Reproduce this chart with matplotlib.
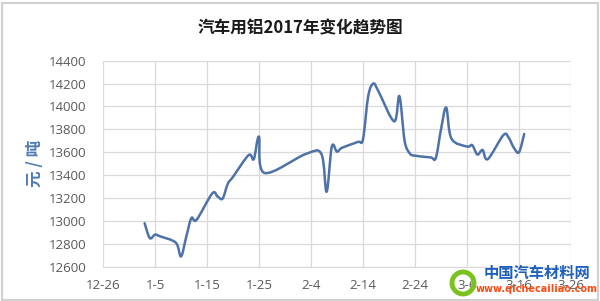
import matplotlib
matplotlib.use("Agg")
import matplotlib.pyplot as plt
import matplotlib.dates as mdates
from matplotlib.path import Path
from matplotlib.patches import PathPatch, Rectangle, Arc, Circle
import datetime as dt
import numpy as np

plt.rcParams['font.family'] = ['Noto Sans CJK SC', 'DejaVu Sans']

title = "汽车用铝2017年变化趋势图"
ylabel = "元 / 吨"

dates = ["2017-01-03", "2017-01-04", "2017-01-05", "2017-01-06", "2017-01-09",
         "2017-01-10", "2017-01-11", "2017-01-12", "2017-01-13", "2017-01-16",
         "2017-01-17", "2017-01-18", "2017-01-19", "2017-01-20", "2017-01-23",
         "2017-01-24", "2017-01-25", "2017-01-26", "2017-02-03", "2017-02-06",
         "2017-02-07", "2017-02-08", "2017-02-09", "2017-02-10", "2017-02-13",
         "2017-02-14", "2017-02-15", "2017-02-16", "2017-02-17", "2017-02-20",
         "2017-02-21", "2017-02-22", "2017-02-23", "2017-02-24", "2017-02-27",
         "2017-02-28", "2017-03-01", "2017-03-02", "2017-03-03", "2017-03-06",
         "2017-03-07", "2017-03-08", "2017-03-09", "2017-03-10", "2017-03-13",
         "2017-03-14", "2017-03-15", "2017-03-16", "2017-03-17"]
prices = [12980, 12850, 12880, 12865, 12810,
          12690, 12860, 13025, 13010, 13240,
          13215, 13195, 13325, 13385, 13575,
          13540, 13736, 13420, 13585, 13585,
          13255, 13650, 13605, 13640, 13690,
          13715, 14090, 14200, 14130, 13870,
          14090, 13700, 13590, 13570, 13555,
          13550, 13800, 13990, 13720, 13650,
          13662, 13580, 13620, 13540, 13750,
          13728, 13640, 13600, 13760]

x_start = "2016-12-26"
x_end = "2017-03-26"
y_ticks = [12600, 12800, 13000, 13200, 13400, 13600, 13800, 14000, 14200, 14400]

W, H = 600, 301
fig = plt.figure(figsize=(W / 100, H / 100), dpi=100)
fig.patch.set_facecolor("white")

ax = fig.add_axes([103 / W, 1 - 266.7 / H, (571 - 103) / W, (266.7 - 60.7) / H])

xs = mdates.date2num([dt.datetime.strptime(d, "%Y-%m-%d") for d in dates])
ys = np.array(prices, dtype=float)
pts = np.column_stack([xs, ys])

# Excel-like smoothed line (Catmull-Rom -> cubic Bezier)
verts = [tuple(pts[0])]
codes = [Path.MOVETO]
n = len(pts)
for i in range(n - 1):
    p0 = pts[i - 1] if i > 0 else pts[i]
    p1 = pts[i]
    p2 = pts[i + 1]
    p3 = pts[i + 2] if i + 2 < n else pts[i + 1]
    c1 = p1 + (p2 - p0) / 6.0
    c2 = p2 - (p3 - p1) / 6.0
    verts += [tuple(c1), tuple(c2), tuple(p2)]
    codes += [Path.CURVE4] * 3
line_color = "#4d72a8"
ax.add_patch(PathPatch(Path(verts, codes), fill=False, edgecolor=line_color,
                       linewidth=1.8, capstyle="round", joinstyle="round", zorder=3))
ax.plot(xs, ys, alpha=0)

x0 = mdates.date2num(dt.datetime.strptime(x_start, "%Y-%m-%d"))
x1 = mdates.date2num(dt.datetime.strptime(x_end, "%Y-%m-%d"))
ax.set_xlim(x0, x1)
ax.set_ylim(12600, 14400)
ax.set_xticks(np.arange(x0, x1 + 0.1, 10))
ax.xaxis.set_major_formatter(matplotlib.ticker.FuncFormatter(
    lambda v, p: f"{mdates.num2date(v).month}-{mdates.num2date(v).day}"))
ax.set_yticks(y_ticks)

grid_c = "#d9d9d9"
ax.grid(True, color=grid_c, linewidth=0.9)
ax.set_axisbelow(True)
for s in ax.spines.values():
    s.set_visible(False)
ax.spines['bottom'].set_visible(True)
ax.spines['bottom'].set_color(grid_c)
ax.tick_params(length=0, labelsize=9.5, colors="#595959")
ax.tick_params(axis='x', pad=9)
ax.tick_params(axis='y', pad=12)
for lab in ax.get_xticklabels() + ax.get_yticklabels():
    lab.set_family(["Open Sans", "DejaVu Sans"])

fig.text(300 / W, 1 - 28 / H, title, ha="center", va="center", fontsize=12,
         fontweight="bold", color="#1a1a1a")
fig.text(35 / W, 1 - 163 / H, ylabel, ha="center", va="center", fontsize=12,
         fontweight="bold", color="#4f7bb5", rotation=90)

# chart border
fig.patches.append(Rectangle((1.5 / W, 1.5 / H), (W - 4) / W, (H - 4) / H,
                             transform=fig.transFigure, fill=False,
                             edgecolor="#d0d0d0", linewidth=1.5))

# watermark
wm = fig.add_axes([0, 0, 1, 1], facecolor="none")
wm.set_xlim(0, W)
wm.set_ylim(H, 0)
wm.axis("off")
wm.add_patch(Arc((530, 300), 170, 110, theta1=20, theta2=170, color="#7cc21e", linewidth=3.5))
wm.add_patch(Circle((463, 283), 11, fill=False, edgecolor="#7cc21e", linewidth=3.5))
wm.text(537, 273, "中国汽车材料网", ha="center", va="center", fontsize=11,
        fontweight="bold", color="#1d5fbf")
wm.text(537, 289, "www.qichecailiao.com", ha="center", va="center", fontsize=7,
        fontweight="bold", color="#ff4a10", family=["DejaVu Sans"])

fig.savefig("out.png", dpi=100)
